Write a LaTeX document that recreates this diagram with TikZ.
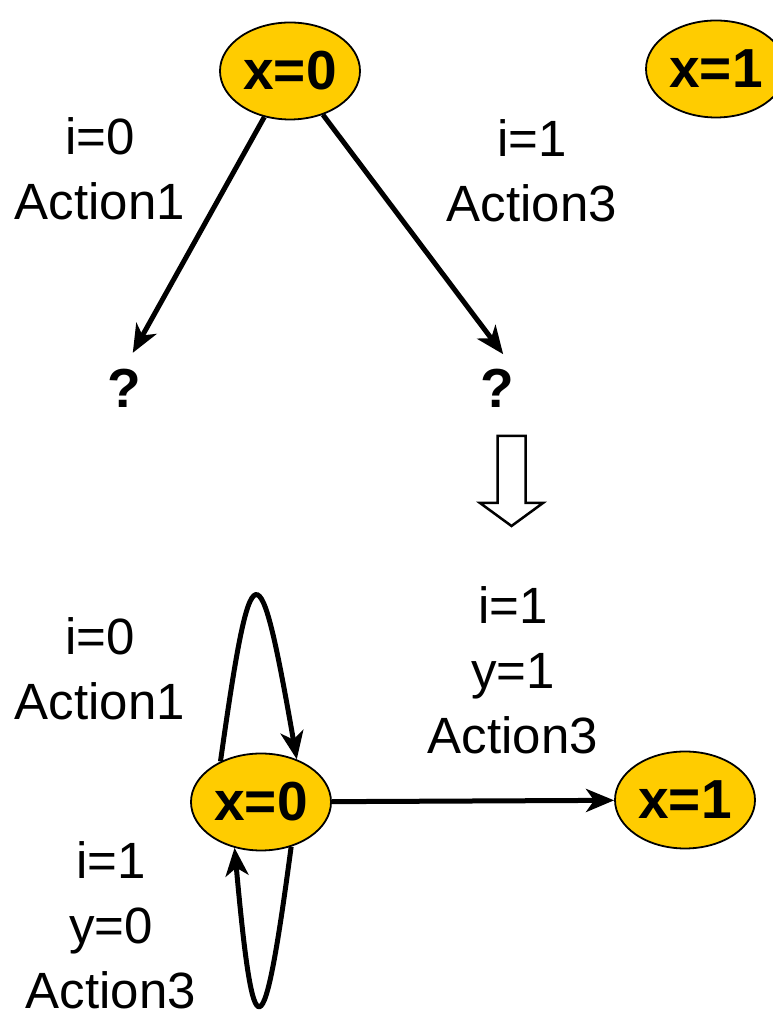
\documentclass[tikz,border=0pt]{standalone}
\usepackage{fontspec}
\setmainfont{Liberation Sans}
\usetikzlibrary{arrows.meta,positioning,shapes.geometric}
\definecolor{stategold}{RGB}{255,204,0}

\begin{document}
\begin{tikzpicture}[x=1pt,y=1pt,
        state/.style={ellipse,draw,line width=1.8pt,fill=stategold,minimum width=140pt,
            minimum height=97pt,inner sep=0pt,font=\fontsize{55}{66}\selectfont\bfseries},
        unknown/.style={inner sep=0pt,font=\fontsize{55}{66}\selectfont\bfseries},
        guard/.style={align=center,inner sep=0pt,font=\fontsize{51}{65}\selectfont},
        trans/.style={line width=5pt,-{Stealth[length=28pt,width=23pt,inset=8pt]}}]

        \useasboundingbox (0,0) rectangle (773,1014);

        % Define vertices (unknown successors)
        \node[state] (a0) at (290,943) {x=0};
        \node[state] (a1) at (716,945) {x=1};
        \node[unknown] (q0) at (124,626) {?};
        \node[unknown] (q1) at (497,626) {?};

        \node[guard] (g0) at (100,845) {i=0\\Action1};
        \node[guard] (g1) at (532,843) {i=1\\Action3};

        % Draw edges
        \path[trans]
            (a0) edge[shorten >=18pt] (q0.north)
            (a0) edge[shorten >=18pt] (q1.north east);

        % Hollow arrow down
        \coordinate (down) at (511.5,578);
        \draw[line width=2.5pt,miter limit=10] (down) ++(-14,0) -- ++(0,-67) -- ++(-17.5,0)
            -- (511.5,488) -- (543,511) -- ++(-17.5,0) -- ++(0,67) -- cycle;

        % Define vertices (resolved)
        \node[state] (b0) at (261,212) {x=0};
        \node[state] (b1) at (685,214) {x=1};

        \node[guard] (h0) at (100,345) {i=0\\Action1};
        \node[guard] (h1) at (513,344) {i=1\\y=1\\Action3};
        \node[guard] (h2) at (111,89) {i=1\\y=0\\Action3};

        % Draw edges
        \path[trans] (b0) edge (b1);
        \draw[trans] (b0.135) .. controls +(31,219) and +(-38,217) .. (b0.50);
        \draw[trans] (b0.304) .. controls +(-28,-210) and +(19,-209) .. (b0.240);

\end{tikzpicture}
\end{document}
